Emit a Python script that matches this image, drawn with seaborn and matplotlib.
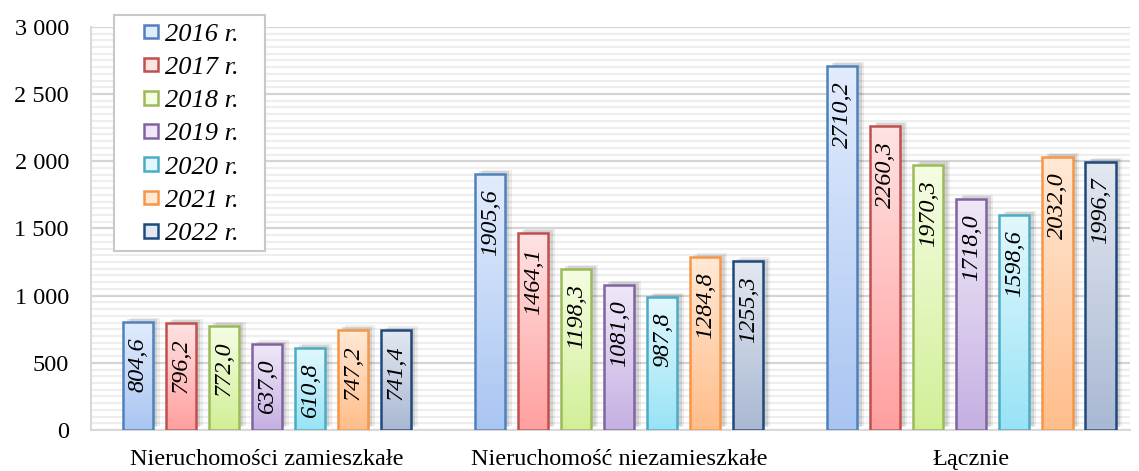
import numpy as np
import pandas as pd
import matplotlib
matplotlib.use("Agg")
import matplotlib.pyplot as plt
import seaborn as sns
from matplotlib.patches import Rectangle
from matplotlib.legend_handler import HandlerPatch
from matplotlib.ticker import MultipleLocator, FuncFormatter
from matplotlib import patheffects as pe
from matplotlib.colors import to_rgb

categories = ["Nieruchomości zamieszkałe", "Nieruchomość niezamieszkałe", "Łącznie"]
years = ["2016 r.", "2017 r.", "2018 r.", "2019 r.", "2020 r.", "2021 r.", "2022 r."]
v2016 = [804.6, 1905.6, 2710.2]
v2017 = [796.2, 1464.1, 2260.3]
v2018 = [772.0, 1198.3, 1970.3]
v2019 = [637.0, 1081.0, 1718.0]
v2020 = [610.8, 987.8, 1598.6]
v2021 = [747.2, 1284.8, 2032.0]
v2022 = [741.4, 1255.3, 1996.7]
series = [v2016, v2017, v2018, v2019, v2020, v2021, v2022]

edge_colors = ["#4f81bd", "#c0504d", "#9bbb59", "#8064a2", "#4bacc6", "#f79646", "#1f497d"]
top_colors = ["#e2ecfd", "#ffe3e3", "#f5fde3", "#efe8f8", "#e3f8fd", "#ffe9d6", "#e3e8f0"]
bot_colors = ["#a9c5f2", "#ff9f9f", "#d2ef97", "#c5b0e2", "#98e3f6", "#ffbd8a", "#a9b8d3"]

df = pd.DataFrame({
    "kategoria": categories * len(years),
    "rok": np.repeat(years, len(categories)),
    "wartosc": np.concatenate(series),
})

sns.set_theme(style="white")
plt.rcParams["font.family"] = ["Liberation Serif", "DejaVu Serif"]
FS = 17.5
LFS = 19

fig = plt.figure(figsize=(11.39, 4.71), dpi=100)
ax = fig.add_axes([0.080, 0.087, 0.912, 0.856])

sns.barplot(data=df, x="kategoria", y="wartosc", hue="rok", order=categories,
            hue_order=years, palette=edge_colors, width=0.855, gap=0.30,
            legend=False, ax=ax, zorder=3)

grad = np.linspace(0, 1, 256).reshape(-1, 1)
for ci, cont in enumerate(ax.containers):
    top = np.array(to_rgb(top_colors[ci]))
    bot = np.array(to_rgb(bot_colors[ci]))
    img = top[None, None, :] * (1 - grad[:, :, None]) + bot[None, None, :] * grad[:, :, None]
    for j, p in enumerate(cont.patches):
        x0, w, h = p.get_x(), p.get_width(), p.get_height()
        sh = Rectangle((x0, 0), w, h, facecolor="none", edgecolor="none", zorder=1)
        sh.set_path_effects([
            pe.SimplePatchShadow(offset=(5, 3), shadow_rgbFace="#000000", alpha=0.07),
            pe.SimplePatchShadow(offset=(3, 2), shadow_rgbFace="#000000", alpha=0.10),
        ])
        ax.add_patch(sh)
        im = ax.imshow(img, extent=(x0, x0 + w, 0, h), aspect="auto",
                       origin="upper", zorder=2, interpolation="bilinear")
        im.set_clip_path(p)
        p.set_facecolor("none")
        p.set_edgecolor(edge_colors[ci])
        p.set_linewidth(1.8)
        val = series[ci][j]
        ax.annotate(f"{val:.1f}".replace(".", ","), xy=(x0 + w / 2, h),
                    xytext=(0, -11), textcoords="offset points", rotation=90,
                    ha="center", va="top", fontsize=FS, style="italic",
                    color="black", zorder=4)

ax.set_xlim(-0.5, 2.45)
ax.set_ylim(0, 3000)
ax.yaxis.set_major_locator(MultipleLocator(500))
ax.yaxis.set_minor_locator(MultipleLocator(50))
ax.yaxis.set_major_formatter(FuncFormatter(lambda v, _: f"{int(v):,}".replace(",", " ")))
ax.grid(axis="y", which="major", color="#d4d4d4", lw=1.6, zorder=0)
ax.grid(axis="y", which="minor", color="#eeeeee", lw=1.6, zorder=0)
ax.set_axisbelow(True)
ax.tick_params(axis="y", which="both", length=0, labelsize=FS, pad=16, colors="black")
ax.tick_params(axis="x", length=0, labelsize=FS, pad=14, colors="black")
ax.set_xlabel("")
ax.set_ylabel("")
for s in ["top", "right"]:
    ax.spines[s].set_visible(False)
ax.spines["left"].set_color("#d9d9d9")
ax.spines["left"].set_linewidth(1.5)
ax.spines["bottom"].set_color("#d9d9d9")
ax.spines["bottom"].set_linewidth(1.5)


def square_handle(legend, orig_handle, xdescent, ydescent, width, height, fontsize):
    s = 0.52 * fontsize
    return Rectangle((width - s - xdescent, (height - s) / 2 - ydescent), s, s)


handles = [Rectangle((0, 0), 1, 1, facecolor=top_colors[i], edgecolor=edge_colors[i], lw=1.8)
           for i in range(len(years))]
leg = fig.legend(handles, years, loc="upper left", bbox_to_anchor=(0.1016, 0.953),
                 frameon=False, prop={"size": LFS, "style": "italic"},
                 handlelength=1.6, handleheight=0.7, handletextpad=0.25,
                 labelspacing=0.37, borderpad=0.0, borderaxespad=0,
                 handler_map={Rectangle: HandlerPatch(patch_func=square_handle)})
leg.set_zorder(11)
for t in leg.get_texts():
    t.set_color("black")

fig.canvas.draw()
bb = leg.get_window_extent(fig.canvas.get_renderer())
padx_l, padx_r, pady_t, pady_b = 2, 27, 7, 6
W, H = fig.bbox.width, fig.bbox.height
frame = Rectangle(((bb.x0 - padx_l) / W, (bb.y0 - pady_b) / H),
                  (bb.width + padx_l + padx_r) / W, (bb.height + pady_t + pady_b) / H,
                  transform=fig.transFigure, facecolor="white", edgecolor="#c8c8c8",
                  lw=1.5, zorder=10)
fig.add_artist(frame)

fig.savefig("out.png", dpi=100)
